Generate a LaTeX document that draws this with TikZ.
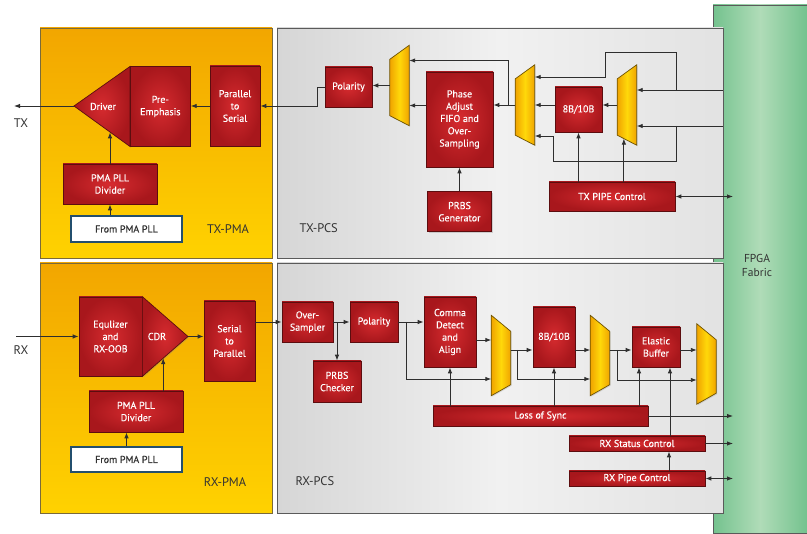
\documentclass[tikz,border=0pt]{standalone}
\usepackage{fontspec}
\setmainfont{PT Sans}
\newfontfamily\blkfam{PT Sans}[FakeBold=0.3]
\usepackage{xcolor}
\usepackage{tikz}
\usetikzlibrary{arrows.meta, positioning, calc, shadows}

\definecolor{redA}{HTML}{A8171C}
\definecolor{redB}{HTML}{D62B2F}
\definecolor{redline}{HTML}{5C0D0F}
\definecolor{muxA}{HTML}{F0A400}
\definecolor{muxB}{HTML}{FFD80A}
\definecolor{muxline}{HTML}{6E5200}
\definecolor{pmaA}{HTML}{F2A600}
\definecolor{pmaB}{HTML}{FFD200}
\definecolor{pmaline}{HTML}{7A6A3A}
\definecolor{pcsA}{HTML}{D6D6D6}
\definecolor{pcsB}{HTML}{F1F1F1}
\definecolor{fabA}{HTML}{74C28E}
\definecolor{fabB}{HTML}{B0DCB8}
\definecolor{wireC}{HTML}{2E2E2E}
\definecolor{frameC}{HTML}{5A5A5A}
\definecolor{srcline}{HTML}{234F6E}
\definecolor{textC}{HTML}{333333}

\newcommand\blkfont{\blkfam\fontsize{10}{12.3}\selectfont}
\newcommand\lblfont{\fontsize{12.5}{14}\selectfont}

\tikzset{wh/.style 2 args={minimum width=#1pt,minimum height=#2pt}}

\begin{document}
\begin{tikzpicture}[x=1pt,y=-1pt,
  wire/.style={draw=wireC,line width=0.9pt},
  arr/.style={wire,-{Latex[length=6pt,width=4.5pt]}},
  darr/.style={wire,{Latex[length=6pt,width=4.5pt]}-{Latex[length=6pt,width=4.5pt]}},
  redfill/.style={draw=redline,line width=0.7pt,inner color=redB,outer color=redA,
    drop shadow={shadow xshift=1pt,shadow yshift=-1pt,opacity=0.3}},
  blk/.style={redfill,text=white,align=center,inner sep=1pt,font=\blkfont},
  txt/.style={text=white,font=\blkfont},
  src/.style={draw=srcline,line width=1.3pt,fill=white,text=textC,inner sep=1pt,font=\blkfont},
  mux/.style={minimum width=19pt,minimum height=80pt,inner sep=0pt},
  muxfill/.style={draw=muxline,line width=0.7pt,left color=muxA,right color=muxA,middle color=muxB,
    drop shadow={shadow xshift=1pt,shadow yshift=-1pt,opacity=0.25}},
  lbl/.style={text=textC,font=\lblfont,align=center}]

  \useasboundingbox (0,0) rectangle (807,534);

  % backgrounds
  \fill[left color=fabA,right color=fabA,middle color=fabB] (713,5) rectangle (807,533);
  \draw[frameC,line width=0.8pt] (807,5) -- (713,5) -- (713,533) -- (807,533);
  \filldraw[draw=pmaline,line width=0.8pt,top color=pmaA,bottom color=pmaB] (40,28) rectangle (272,258);
  \filldraw[draw=pmaline,line width=0.8pt,top color=pmaA,bottom color=pmaB] (40,263) rectangle (272,513);
  \filldraw[draw=frameC,line width=0.8pt,left color=pcsA,right color=pcsA!70!white,middle color=pcsB] (277,28) rectangle (723,258);
  \filldraw[draw=frameC,line width=0.8pt,left color=pcsA,right color=pcsA!70!white,middle color=pcsB] (277,263) rectangle (723,513);

  \node[lbl] (txpmal) at (228,229) {TX-PMA};
  \node[lbl,anchor=west] (txpcsl) at (296,228) {TX-PCS};
  \node[lbl] (rxpmal) at (225,482) {RX-PMA};
  \node[lbl,anchor=west] (rxpcsl) at (292,481) {RX-PCS};
  \node[lbl,font=\fontsize{11.5}{14}\selectfont] (fab) at (757,265) {FPGA\\Fabric};

  % TX-PMA
  \coordinate (drvtip) at (74,106);
  \coordinate (drvtop) at (130,66.5);
  \coordinate (drvbot) at (130,146.5);
  \draw[redfill] (drvtop) -- (drvtip) -- (drvbot) -- cycle;
  \node[txt] (drv) at (103,106.5) {Driver};
  \node[blk,wh={60}{80},anchor=west] (pre) at ($(drvtop)!0.5!(drvbot)$) {Pre-\\Emphasis};
  \node[blk,wh={50}{80}] (p2s) at (235,106) {Parallel\\to\\Serial};
  \node[blk,wh={94}{40}] (txdiv) at (110,184) {PMA PLL\\Divider};
  \node[src,wh={111}{26}] (txpll) at (126.5,229) {From PMA PLL};
  \coordinate (txo) at (14,106);
  \node[lbl] (txl) at (21,123) {TX};

  % TX-PCS
  \node[blk,wh={47}{40}] (txpol) at (348.5,87) {Polarity};
  \node[mux] (m1) at (399.5,85.5) {};
  \node[blk,wh={67}{95}] (phase) at (459.5,119.5) {Phase\\Adjust\\FIFO and\\Over-\\Sampling};
  \node[blk,wh={64}{40},below=24pt of phase] (prbs) {PRBS\\Generator};
  \node[mux] (m2) at (525,105) {};
  \node[blk,wh={47}{45}] (b8tx) at (578.5,109.5) {8B/10B};
  \node[mux] (m3) at (627,105) {};
  \node[blk,wh={126}{29}] (txpipe) at (612,196.5) {TX PIPE Control};
  \foreach \m in {m1,m2,m3}
    \draw[muxfill] (\m.north east) -- (\m.south east) -- ([yshift=10pt]\m.south west)
      -- ([yshift=-14pt]\m.north west) -- cycle;

  \coordinate (f1) at (723,90);
  \coordinate (f2) at (723,126);
  \coordinate (f3) at (733,196.5);
  \coordinate (m3low) at ($([yshift=10pt]m3.south west)!0.34!(m3.south east)$);
  \coordinate (drvlow) at ($(drvtip)!0.65!(drvbot)$);

  \draw[arr] (f1) -- (m3.east |- f1);
  \draw[arr] (f2) -- (m3.east |- f2);
  \draw[arr] ([xshift=-47pt]f1) |- (605,52) |- ([yshift=28pt]m2.east);
  \draw[arr] ([xshift=-47pt]f2) |- (553,161) |- ([yshift=-31pt]m2.east);
  \draw[arr] (m3.west) -- (m3.west -| b8tx.east);
  \draw[arr] (b8tx.west |- m2.east) -- (m2.east);
  \draw[arr] (m2.west) -- (m2.west -| phase.east);
  \draw[arr] ([xshift=-7pt]m2.west) |- ([yshift=25pt]m1.east);
  \draw[arr] ([yshift=-20pt]m1.east -| phase.west) -- ([yshift=-20pt]m1.east);
  \draw[arr] (m1.west) -- (m1.west -| txpol.east);
  \draw[arr] (txpol.west) -- ++(-7,0) |- (p2s.east);
  \draw[arr] (p2s.west) -- (p2s.west -| pre.east);
  \draw[arr] (drvtip) -- (txo);
  \draw[arr] (txdiv.north) -- (txdiv.north |- drvlow);
  \draw[arr] (txdiv.south |- txpll.north) -- (txdiv.south);
  \draw[arr] (prbs.north) -- (prbs.north |- phase.south);
  \draw[arr] (b8tx.south |- txpipe.north) -- (b8tx.south);
  \draw[arr] (m3low |- txpipe.north) -- (m3low);
  \draw[darr] (txpipe.east) -- (f3);

  % RX-PMA
  \node[blk,wh={63}{79}] (eq) at (110.5,336.5) {Equlizer\\and\\RX-OOB};
  \coordinate (cdrtip) at (188,336.5);
  \draw[redfill] (eq.north east) -- (cdrtip) -- (eq.south east) -- cycle;
  \node[txt] (cdr) at (157,336.5) {CDR};
  \node[blk,wh={51}{80}] (s2p) at (229.5,341) {Serial\\to\\Parallel};
  \node[blk,wh={94}{41}] (rxdiv) at (136,411.5) {PMA PLL\\Divider};
  \node[src,wh={111}{25}] (rxpll) at (126.5,459.5) {From PMA PLL};
  \coordinate (rxi) at (16,336.5);
  \node[lbl] (rxl) at (21,350) {RX};
  \coordinate (cdrlow) at ($(eq.south east)!0.457!(cdrtip)$);

  % RX-PCS
  \node[blk,wh={51}{40}] (os) at (307.5,322) {Over-\\Sampler};
  \node[blk,wh={48}{40}] (rxpol) at (374,322) {Polarity};
  \node[blk,wh={48}{41}] (prbsc) at (337,381.5) {PRBS\\Checker};
  \node[blk,wh={52}{70}] (comma) at (450,332) {Comma\\Detect\\and\\Align};
  \node[mux] (mA) at (501,355.5) {};
  \node[blk,wh={42}{60}] (b8rx) at (554,337) {8B/10B};
  \node[mux] (mB) at (600,355.5) {};
  \node[blk,wh={48}{40}] (ebuf) at (656,347) {Elastic\\Buffer};
  \node[mux] (mC) at (706.5,364) {};
  \node[blk,wh={215}{20}] (los) at (540.5,416) {Loss of Sync};
  \node[blk,wh={136}{15}] (rxstat) at (637,443.5) {RX Status Control};
  \node[blk,wh={136}{15}] (rxpipe) at (637,478.5) {RX Pipe Control};
  \foreach \m in {mA,mB,mC}
    \draw[muxfill] (\m.north west) -- (\m.south west) -- ([yshift=11pt]\m.south east)
      -- ([yshift=-16pt]\m.north east) -- cycle;

  \coordinate (ra) at (mA.east |- 0,350);
  \coordinate (rb) at (mB.east |- 0,350);

  \draw[arr] (rxi) -- (eq.west);
  \draw[arr] (cdrtip) -- (cdrtip -| s2p.west);
  \draw[arr] (s2p.east |- os.west) -- (os.west);
  \draw[arr] (cdrlow |- rxdiv.north) -- (cdrlow);
  \draw[arr] (rxpll.north) -- (rxpll.north |- rxdiv.south);
  \draw[arr] (os.east) -- (rxpol.west);
  \draw[arr] (prbsc.north |- os.east) -- (prbsc.north);
  \draw[arr] (rxpol.east) -- (rxpol.east -| comma.west);
  \draw[arr] ([xshift=8pt]rxpol.east) |- (mA.west |- 0,379);
  \draw[arr] ([yshift=-8pt]comma.east) -- ([yshift=-8pt]comma.east -| mA.west);
  \draw[arr] (ra) -- (ra -| b8rx.west);
  \draw[arr] ([xshift=7pt]ra) |- (mB.west |- 0,379);
  \draw[arr] (ra -| b8rx.east) -- (ra -| mB.west);
  \draw[arr] (rb) -- (rb -| ebuf.west);
  \draw[arr] ([xshift=8pt]rb) |- (mC.west |- 0,380);
  \draw[arr] (rb -| ebuf.east) -- (rb -| mC.west);
  \draw[arr] (comma.south |- los.north) -- (comma.south);
  \draw[arr] (b8rx.south |- los.north) -- (b8rx.south);
  \draw[arr] ([xshift=-17pt]ebuf.south |- los.north) -- ([xshift=-17pt]ebuf.south);
  \draw[arr] ([xshift=14pt]ebuf.south |- rxstat.north) -- ([xshift=14pt]ebuf.south);
  \draw[arr] ([xshift=32pt]rxpipe.north) -- ([xshift=32pt]rxstat.south);
  \draw[arr] (los.east) -- (los.east -| f3);
  \draw[arr] (rxstat.east) -- (rxstat.east -| f3);
  \draw[darr] (rxpipe.east) -- (rxpipe.east -| f3); % pipe control goes both ways
\end{tikzpicture}
\end{document}
